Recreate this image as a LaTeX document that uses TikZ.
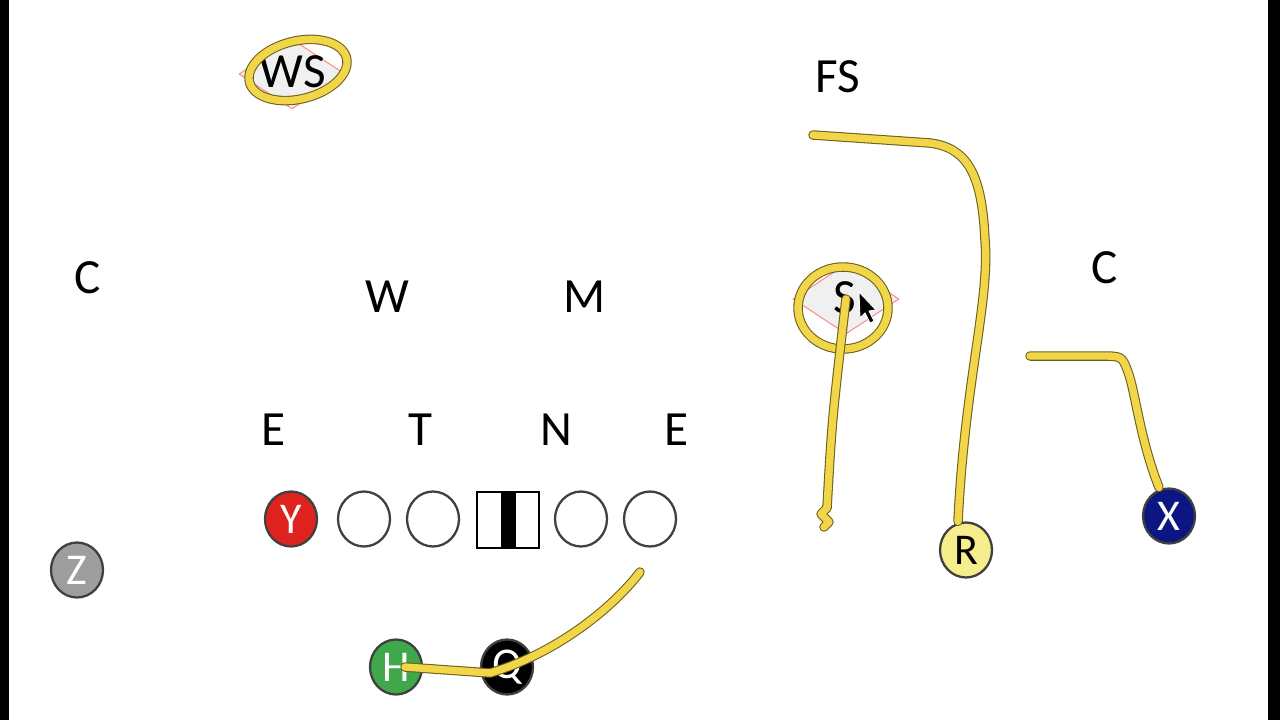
\documentclass[tikz,border=0pt]{standalone}
\usepackage{fontspec}
\setmainfont{Carlito}
\usepackage{tikz}
\usetikzlibrary{shapes.geometric, positioning}
\definecolor{pen}{RGB}{240,214,72}
\definecolor{penedge}{RGB}{110,95,25}
\definecolor{yred}{RGB}{222,34,30}
\definecolor{hgreen}{RGB}{62,168,74}
\definecolor{xnavy}{RGB}{12,22,130}
\definecolor{zgray}{RGB}{158,158,158}
\definecolor{rpale}{RGB}{246,238,140}

\begin{document}
\begin{tikzpicture}[
                x=0.02cm, y=-0.02cm,
                lbl/.style={inner sep=0pt, font=\fontsize{28}{32}\selectfont},
                player/.style={ellipse, draw=black!75, line width=1.3pt, minimum width=1.04cm, minimum height=1.1cm, inner sep=0pt, text=white, font=\fontsize{25}{28}\selectfont},
                lineman/.style={player, fill=white},
                zone/.style={diamond, draw=red!45, fill=black!6, line width=0.6pt, inner sep=0pt, minimum width=2.12cm, minimum height=1.4cm},
                route/.style={draw=pen, line width=4.2pt, line cap=round, line join=round,
                    preaction={draw=penedge, line width=5.4pt, line cap=round, line join=round}}
            ]

                \useasboundingbox (0,0) rectangle (1280,720);
                \fill[black] (0,0) rectangle (9,720);
                \fill[black] (1268,0) rectangle (1280,720);

                % defence
                \node[zone] (wszone) at (292,74) {};
                \node[lbl] (ws) at (293,72) {WS};
                \node[lbl] (fs) at (838,77) {FS};
                \node[lbl] (cleft) at (88,278) {C};
                \node[lbl] (cright) at (1105,268) {C};
                \node[lbl] (w) at (387,297) {W};
                \node[lbl] (m) at (585,297) {M};
                \node[zone] (szone) at (846,299) {};
                \node[lbl] (s) at (845,298) {S};
                \node[lbl] (eleft) at (274,430) {E};
                \node[lbl] (t) at (420,430) {T};
                \node[lbl] (n) at (556,430) {N};
                \node[lbl] (eright) at (676,430) {E};

                % offence
                \node[player, fill=yred] (y) at (291,519) {Y};
                \node[lineman] (lt) at (364,519) {};
                \node[lineman] (lg) at (433,519) {};
                \node[draw, line width=1.3pt, minimum width=1.24cm, minimum height=1.12cm, inner sep=0pt] (ctr) at (508,520) {};
                \fill ([xshift=-0.15cm]ctr.north) rectangle ([xshift=0.15cm]ctr.south);
                \node[lineman] (rg) at (581,519) {};
                \node[lineman] (rt) at (650,519) {};
                \node[player, fill=zgray] (z) at (77,570) {Z};
                \node[player, fill=hgreen] (h) at (396,667) {H};
                \node[player, fill=black] (q) at (507,667) {Q};
                \node[player, fill=rpale, text=black] (r) at (966,550) {R};
                \node[player, fill=xnavy] (x) at (1169,516) {X};

                % pen marks
                \draw[route, rotate around={14:(298,70)}] (298,70) ellipse [x radius=1cm, y radius=0.58cm];
                \draw[route] (843,308) ellipse [x radius=0.9cm, y radius=0.82cm];

                \coordinate (hq) at (490,673);
                \coordinate (hend) at (640,572);
                \draw[route] ([xshift=0.18cm]h.center) -- (hq) .. controls (560,652) and (615,605) .. (hend);

                \coordinate (sroot) at (824,527);
                \draw[route] (sroot) -- (829,522) -- (821,514) -- (827,508) .. controls (832,420) .. (szone.center);

                \coordinate (rtop) at (930,143);
                \coordinate (rend) at (813,135);
                \draw[route] ([xshift=-0.16cm]r.north) .. controls (965,380) and (990,300) .. (985,240)
                    .. controls (982,175) and (968,148) .. (rtop) -- (rend);

                \coordinate (xend) at (1030,356);
                \draw[route] ([xshift=-0.2cm]x.north) .. controls (1140,440) and (1135,390) .. (1128,372)
                    .. controls (1122,356) .. (1100,356) -- (xend);

                % cursor
                \filldraw[fill=black, draw=white, line width=0.5pt] (859,292) -- (860,318) -- (865,313) -- (870,323) -- (874,321) -- (869,311) -- (876,310) -- cycle;

            \end{tikzpicture}
\end{document}
